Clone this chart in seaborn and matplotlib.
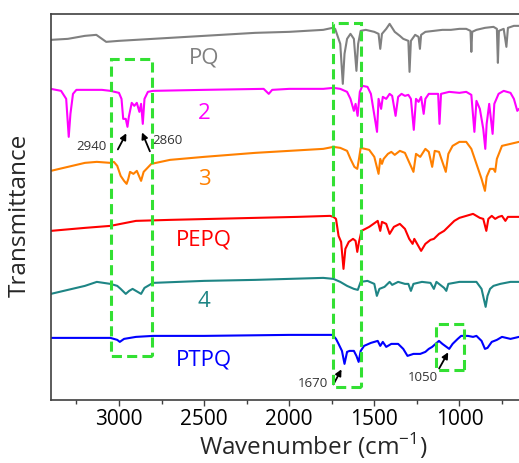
import matplotlib
matplotlib.use("Agg")
import matplotlib.pyplot as plt
import seaborn as sns
from matplotlib.patches import Rectangle
from matplotlib.ticker import MultipleLocator

# spectra (wavenumber in cm-1, transmittance in arbitrary stacked units)
pq_wn = [3400, 3300, 3200, 3133, 3075, 3000, 2800, 2500, 2200, 2000, 1800, 1745, 1730, 1700, 1685,
         1675, 1660, 1640, 1620, 1605, 1595, 1580, 1550, 1500, 1475, 1465, 1455, 1430, 1410, 1380,
         1350, 1330, 1300, 1293, 1285, 1260, 1240, 1232, 1225, 1200, 1150, 1100, 1050, 1000, 960,
         935, 930, 925, 900, 850, 800, 780, 774, 768, 740, 724, 715, 680, 650]
pq_t = [360, 361, 364, 365, 358, 359, 361, 364, 367, 368, 370, 372, 371, 356, 316,
        346, 361, 366, 361, 329, 356, 369, 370, 368, 366, 351, 366, 371, 376, 368,
        364, 361, 359, 328, 359, 365, 363, 351, 365, 368, 369, 370, 370, 371, 371,
        369, 348, 368, 370, 372, 373, 371, 337, 369, 371, 353, 372, 374, 374]

s2_wn = [3400, 3340, 3310, 3295, 3285, 3270, 3250, 3100, 3050, 3000, 2985, 2975, 2960, 2950, 2942,
         2925, 2910, 2895, 2880, 2870, 2860, 2850, 2830, 2800, 2500, 2150, 2120, 2100, 2000, 1800,
         1740, 1700, 1660, 1640, 1620, 1610, 1598, 1585, 1570, 1540, 1520, 1484, 1475, 1460, 1450,
         1430, 1410, 1395, 1375, 1360, 1340, 1320, 1300, 1285, 1268, 1255, 1240, 1225, 1210, 1200,
         1180, 1125, 1117, 1108, 1060, 1000, 960, 930, 912, 900, 880, 860, 848, 840, 825,
         805, 795, 770, 740, 720, 700, 680, 660, 650]
s2_t = [311, 309, 301, 263, 286, 306, 310, 310, 309, 307, 301, 281, 281, 273, 283,
        297, 294, 297, 288, 296, 276, 301, 308, 309, 310, 311, 306, 310, 311, 311,
        312, 311, 308, 301, 289, 296, 284, 308, 314, 313, 306, 268, 301, 291, 303,
        301, 306, 304, 284, 303, 306, 304, 305, 301, 270, 301, 298, 303, 286, 301,
        306, 306, 276, 306, 308, 307, 308, 305, 268, 299, 291, 271, 251, 276, 296,
        266, 296, 306, 309, 308, 307, 301, 289, 291]

s3_wn = [3400, 3300, 3200, 3130, 3050, 3030, 3010, 2990, 2970, 2955, 2945, 2935, 2915, 2895, 2870,
         2855, 2810, 2700, 2500, 2200, 2000, 1800, 1740, 1700, 1660, 1640, 1617, 1600, 1590, 1580,
         1530, 1500, 1475, 1465, 1455, 1445, 1420, 1400, 1380, 1350, 1320, 1270, 1255, 1230, 1200,
         1180, 1160, 1145, 1120, 1080, 1065, 1040, 1000, 960, 930, 900, 870, 850, 840, 820,
         800, 790, 780, 750, 700, 650]
s3_t = [229, 233, 237, 238, 237, 238, 234, 224, 219, 216, 221, 228, 226, 229, 219,
        228, 236, 240, 243, 247, 249, 251, 253, 252, 249, 241, 233, 231, 241, 252,
        250, 243, 226, 241, 236, 241, 246, 248, 245, 249, 247, 228, 246, 243, 251,
        248, 233, 249, 248, 228, 246, 254, 258, 258, 251, 236, 221, 209, 223, 231,
        231, 228, 241, 254, 256, 258]

pepq_wn = [3400, 3200, 3050, 2900, 2700, 2200, 1950, 1760, 1740, 1725, 1710, 1695, 1681, 1670, 1650,
           1625, 1610, 1600, 1590, 1575, 1530, 1480, 1465, 1455, 1430, 1410, 1385, 1350, 1320, 1295,
           1275, 1265, 1225, 1200, 1170, 1150, 1120, 1090, 1060, 1030, 1000, 960, 920, 880, 860,
           842, 830, 810, 790, 770, 750, 730, 715, 650]
pepq_t = [169, 172, 174, 179, 180, 182, 183, 184, 183, 181, 164, 158, 131, 151, 158,
          161, 159, 148, 158, 169, 173, 179, 169, 178, 176, 166, 173, 176, 171, 161,
          156, 161, 149, 156, 160, 161, 166, 169, 174, 179, 182, 184, 186, 182, 181,
          169, 181, 184, 181, 183, 184, 179, 183, 183]

s4_wn = [3400, 3300, 3200, 3130, 3050, 3010, 2990, 2960, 2940, 2920, 2900, 2870, 2850, 2800, 2500,
         2200, 2000, 1800, 1740, 1700, 1660, 1620, 1597, 1580, 1540, 1500, 1485, 1470, 1440, 1410,
         1395, 1360, 1320, 1300, 1285, 1270, 1220, 1170, 1150, 1135, 1090, 1077, 1065, 1000, 950,
         900, 870, 846, 835, 820, 800, 760, 700, 650]
s4_t = [106, 110, 114, 118, 116, 114, 111, 106, 109, 111, 109, 106, 112, 117, 119,
        120, 121, 122, 121, 118, 114, 111, 110, 118, 119, 116, 104, 111, 113, 118,
        115, 118, 116, 116, 109, 116, 118, 117, 111, 118, 112, 109, 116, 118, 118,
        118, 111, 93, 104, 111, 114, 116, 118, 118]

ptpq_wn = [3400, 3200, 3050, 3010, 2995, 2970, 2900, 2800, 2500, 2000, 1780, 1745, 1725, 1710, 1690,
           1675, 1660, 1645, 1620, 1605, 1592, 1580, 1560, 1520, 1480, 1465, 1450, 1430, 1400, 1360,
           1330, 1305, 1270, 1230, 1200, 1180, 1160, 1120, 1100, 1060, 1040, 1010, 990, 950, 920,
           900, 870, 850, 835, 810, 780, 750, 700, 650]
ptpq_t = [62, 62, 62, 60, 58, 61, 63, 64, 64, 65, 65, 65, 61, 56, 49,
          36, 48, 49, 49, 44, 38, 49, 54, 57, 59, 54, 58, 53, 56, 56,
          51, 44, 46, 46, 48, 51, 53, 59, 56, 51, 56, 61, 64, 64, 63,
          64, 59, 51, 52, 58, 60, 63, 61, 63]

series = [
    ("PQ", pq_wn, pq_t, "#808080", 343),
    ("2", s2_wn, s2_t, "#FF00FF", 287),
    ("3", s3_wn, s3_t, "#FF8000", 221),
    ("PEPQ", pepq_wn, pepq_t, "#FF0000", 161),
    ("4", s4_wn, s4_t, "#1E8585", 99),
    ("PTPQ", ptpq_wn, ptpq_t, "#0000FF", 41),
]
label_wn = 2500

# highlighted regions: (wn_left, wn_right, t_bottom, t_top)
boxes = [(3045, 2805, 44, 341), (1740, 1577, 13, 377), (1140, 972, 30, 76)]

# peak annotations: text, text pos, arrow tail, arrow head
peaks = [
    ("2940", (3163, 254), (3014, 248), (2949, 269)),
    ("2860", (2716, 260), (2812, 246), (2871, 270)),
    ("1670", (1863, 17), (1748, 13), (1685, 33)),
    ("1050", (1217, 23), (1127, 29), (1058, 50)),
]

sns.set_style("white")
plt.rcParams["font.family"] = ["Open Sans", "DejaVu Sans"]
plt.rcParams["mathtext.fontset"] = "custom"
plt.rcParams["mathtext.rm"] = "Open Sans"

fig = plt.figure(figsize=(5.19, 4.64), dpi=100)
ax = fig.add_axes([0.098, 0.136, 0.902, 0.832])

for name, wn, t, color, ty in series:
    sns.lineplot(x=wn, y=t, color=color, linewidth=1.5, ax=ax)
    ax.text(label_wn, ty, name, color=color, fontsize=16, ha="center", va="center")

for x0, x1, y0, y1 in boxes:
    ax.add_patch(Rectangle((x1, y0), x0 - x1, y1 - y0, fill=False, edgecolor="#33E033",
                           linewidth=2.2, linestyle=(0, (3.3, 1.7)), zorder=5))

for txt, tpos, tail, head in peaks:
    ax.annotate("", xy=head, xytext=tail,
                arrowprops=dict(arrowstyle="-|>", color="black", lw=1.3, mutation_scale=9))
    ax.text(tpos[0], tpos[1], txt, fontsize=9.5, color="#333333", ha="center", va="center")

ax.set_xlim(3400, 650)
ax.set_ylim(0, 386)
ax.set_yticks([])
ax.xaxis.set_major_locator(MultipleLocator(500))
ax.xaxis.set_minor_locator(MultipleLocator(250))
ax.tick_params(axis="x", which="major", direction="out", length=4, width=1, colors="#404040",
               labelsize=15, labelcolor="black", bottom=True, pad=2)
ax.tick_params(axis="x", which="minor", direction="out", length=3, width=1, colors="#404040", bottom=True)
for side in ["left", "top", "bottom"]:
    ax.spines[side].set_color("#404040")
    ax.spines[side].set_linewidth(1.2)
ax.spines["right"].set_visible(False)

ax.set_xlabel(r"Wavenumber (cm$^{-1}$)", fontsize=17.5)
ax.xaxis.set_label_coords(0.56, -0.078)
ax.set_ylabel("Transmittance", fontsize=17.5)
ax.yaxis.set_label_coords(-0.04, 0.48)

fig.savefig("out.png", dpi=100)
